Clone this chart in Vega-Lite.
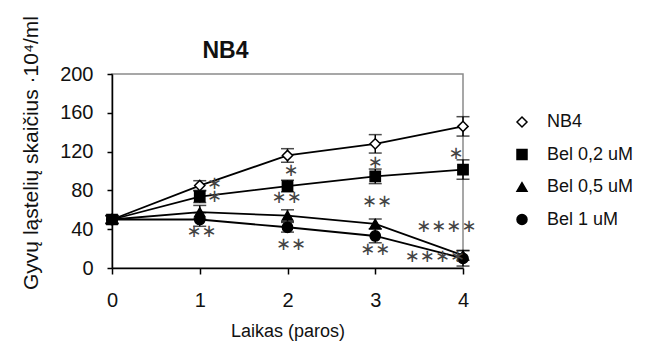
{
  "$schema": "https://vega.github.io/schema/vega-lite/v6.json",
  "width": 351,
  "height": 194,
  "autosize": {"type": "none"},
  "padding": {"left": 112, "top": 74, "right": 183, "bottom": 74},
  "background": "white",
  "config": {
    "font": "Liberation Sans",
    "view": {"stroke": "#8a8a8a", "strokeWidth": 1.5},
    "axis": {"grid": false, "domainColor": "black", "domainWidth": 1.5, "tickColor": "black", "tickWidth": 1.5, "labelFontSize": 20, "labelColor": "#111", "titleFontWeight": "normal", "titleColor": "#111", "labelOverlap": false, "labelFlush": false},
    "axisX": {"tickSize": 6, "labelPadding": 16, "titlePadding": 12, "titleFontSize": 18},
    "axisY": {"tickSize": 5, "labelPadding": 14, "titleFontSize": 21, "titleAngle": -90, "titleX": -75, "titleY": 78.5, "titleAlign": "center", "titleBaseline": "alphabetic"},
    "legend": {"orient": "none", "legendX": 401, "legendY": 39, "padding": 0, "symbolSize": 100, "labelFontSize": 18, "labelOffset": 16, "rowPadding": 14.5, "labelColor": "#111", "symbolStrokeWidth": 1.5}
  },
  "title": {"text": "NB4", "fontSize": 23, "fontWeight": "bold", "color": "#111", "anchor": "middle", "frame": "group", "dx": -62, "dy": 65, "offset": 0, "baseline": "alphabetic"},
  "datasets": {
    "series": [
      {"series": "NB4", "day": 0, "mean": 50, "lo": 46, "hi": 54},
      {"series": "NB4", "day": 1, "mean": 85, "lo": 80, "hi": 90},
      {"series": "NB4", "day": 2, "mean": 116, "lo": 109, "hi": 123},
      {"series": "NB4", "day": 3, "mean": 128, "lo": 118.5, "hi": 137.5},
      {"series": "NB4", "day": 4, "mean": 146, "lo": 136, "hi": 156},
      {"series": "Bel 0,2 uM", "day": 0, "mean": 50, "lo": 46, "hi": 54},
      {"series": "Bel 0,2 uM", "day": 1, "mean": 73.5, "lo": 67.5, "hi": 79.5},
      {"series": "Bel 0,2 uM", "day": 2, "mean": 84.5, "lo": 78.5, "hi": 90.5},
      {"series": "Bel 0,2 uM", "day": 3, "mean": 94.5, "lo": 87, "hi": 102},
      {"series": "Bel 0,2 uM", "day": 4, "mean": 101.5, "lo": 91.5, "hi": 111.5},
      {"series": "Bel 0,5 uM", "day": 0, "mean": 50, "lo": 46, "hi": 54},
      {"series": "Bel 0,5 uM", "day": 1, "mean": 57.5, "lo": 50.5, "hi": 64.5},
      {"series": "Bel 0,5 uM", "day": 2, "mean": 54, "lo": 48, "hi": 60},
      {"series": "Bel 0,5 uM", "day": 3, "mean": 45.5, "lo": 40.5, "hi": 50.5},
      {"series": "Bel 0,5 uM", "day": 4, "mean": 13, "lo": 8, "hi": 18},
      {"series": "Bel 1 uM", "day": 0, "mean": 50, "lo": 46, "hi": 54},
      {"series": "Bel 1 uM", "day": 1, "mean": 50, "lo": 43, "hi": 57},
      {"series": "Bel 1 uM", "day": 2, "mean": 42, "lo": 37, "hi": 47},
      {"series": "Bel 1 uM", "day": 3, "mean": 33, "lo": 26, "hi": 40},
      {"series": "Bel 1 uM", "day": 4, "mean": 10, "lo": 2, "hi": 18}
    ],
    "stars": [
      {"x": 1.17, "y": 86.6, "t": "∗"},
      {"x": 1.17, "y": 73, "t": "∗"},
      {"x": 1.02, "y": 37.4, "t": "∗∗"},
      {"x": 2.04, "y": 100, "t": "∗"},
      {"x": 1.99, "y": 72, "t": "∗∗"},
      {"x": 2.04, "y": 23.7, "t": "∗∗"},
      {"x": 3.0, "y": 108.5, "t": "∗"},
      {"x": 3.02, "y": 68, "t": "∗∗"},
      {"x": 3.0, "y": 18.5, "t": "∗∗"},
      {"x": 3.92, "y": 118, "t": "∗"},
      {"x": 3.81, "y": 42.6, "t": "∗∗∗∗"},
      {"x": 3.68, "y": 11, "t": "∗∗∗∗"}
    ]
  },
  "layer": [
    {
      "data": {"name": "series"},
      "mark": {"type": "line", "color": "black", "strokeWidth": 1.8},
      "encoding": {
        "x": {"field": "day", "type": "quantitative", "title": "Laikas (paros)", "scale": {"domain": [0, 4], "nice": false, "zero": false},
          "axis": {"values": [0, 1, 2, 3, 4], "format": "d", "tickCount": 10, "labelOverlap": false}},
        "y": {"field": "mean", "type": "quantitative", "title": "Gyvų ląstelių skaičius ·10⁴/ml", "scale": {"domain": [0, 200], "nice": false},
          "axis": {"values": [0, 40, 80, 120, 160, 200], "format": "d", "tickCount": 10, "labelOverlap": false}},
        "detail": {"field": "series", "type": "nominal"}
      }
    },
    {
      "data": {"name": "series"},
      "mark": {"type": "rule", "color": "black", "strokeWidth": 1.5},
      "encoding": {
        "x": {"field": "day", "type": "quantitative", "title": "Laikas (paros)"},
        "y": {"field": "lo", "type": "quantitative", "title": "Gyvų ląstelių skaičius ·10⁴/ml"},
        "y2": {"field": "hi"}
      }
    },
    {
      "data": {"name": "series"},
      "mark": {"type": "tick", "orient": "horizontal", "color": "black", "size": 13, "thickness": 1.5},
      "encoding": {
        "x": {"field": "day", "type": "quantitative", "title": "Laikas (paros)"},
        "y": {"field": "lo", "type": "quantitative", "title": "Gyvų ląstelių skaičius ·10⁴/ml"}
      }
    },
    {
      "data": {"name": "series"},
      "mark": {"type": "tick", "orient": "horizontal", "color": "black", "size": 13, "thickness": 1.5},
      "encoding": {
        "x": {"field": "day", "type": "quantitative", "title": "Laikas (paros)"},
        "y": {"field": "hi", "type": "quantitative", "title": "Gyvų ląstelių skaičius ·10⁴/ml"}
      }
    },
    {
      "data": {"name": "series"},
      "mark": {"type": "point", "filled": true, "strokeWidth": 1.5, "size": 105, "opacity": 1},
      "encoding": {
        "x": {"field": "day", "type": "quantitative", "title": "Laikas (paros)"},
        "y": {"field": "mean", "type": "quantitative", "title": "Gyvų ląstelių skaičius ·10⁴/ml"},
        "shape": {"field": "series", "type": "nominal", "title": null,
          "scale": {"domain": ["NB4", "Bel 0,2 uM", "Bel 0,5 uM", "Bel 1 uM"], "range": ["diamond", "square", "triangle-up", "circle"]}},
        "fill": {"field": "series", "type": "nominal", "title": null,
          "scale": {"domain": ["NB4", "Bel 0,2 uM", "Bel 0,5 uM", "Bel 1 uM"], "range": ["white", "black", "black", "black"]}},
        "stroke": {"field": "series", "type": "nominal", "title": null,
          "scale": {"domain": ["NB4", "Bel 0,2 uM", "Bel 0,5 uM", "Bel 1 uM"], "range": ["black", "black", "black", "black"]}}
      }
    },
    {
      "data": {"name": "stars"},
      "mark": {"type": "text", "font": "DejaVu Sans", "fontSize": 18, "color": "#444", "baseline": "middle", "align": "center"},
      "encoding": {
        "x": {"field": "x", "type": "quantitative", "title": "Laikas (paros)"},
        "y": {"field": "y", "type": "quantitative", "title": "Gyvų ląstelių skaičius ·10⁴/ml"},
        "text": {"field": "t"}
      }
    }
  ]
}
